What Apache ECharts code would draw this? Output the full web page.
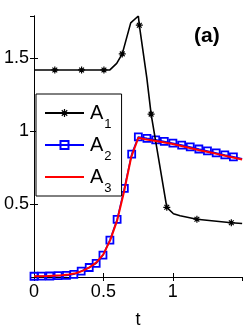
<!DOCTYPE html>
<html><head><meta charset="utf-8">
<script src="https://cdn.jsdelivr.net/npm/echarts@6/dist/echarts.min.js"></script>
<style>html,body{margin:0;padding:0;background:#fff}#c{width:250px;height:334px}</style>
</head><body><div id="c"></div>
<script>
// A1: curve points without markers, and marked points
var a1CurveX = [0, 0.547, 0.596, 0.697, 0.752, 0.813, 1.005, 1.053, 1.5];
var a1CurveY = [1.42, 1.42, 1.465, 1.743, 1.79, 1.365, 0.434, 0.42, 0.367];
var a1MarkX = [0.15, 0.343, 0.504, 0.636, 0.759, 0.844, 0.957, 1.174, 1.422];
var a1MarkY = [1.42, 1.42, 1.42, 1.53, 1.727, 1.117, 0.478, 0.396, 0.372];
// A2: squares
var a2X = [0, 0.054, 0.114, 0.174, 0.234, 0.287, 0.340, 0.398, 0.448, 0.497, 0.547, 0.599, 0.651, 0.704, 0.752,
           0.814, 0.877, 0.939, 1.001, 1.064, 1.126, 1.188, 1.25, 1.313, 1.375, 1.437, 1.5];
var a2Y = [0.005, 0.006, 0.007, 0.009, 0.011, 0.018, 0.04, 0.065, 0.093, 0.15, 0.253, 0.395, 0.608, 0.843, 0.961,
           0.951, 0.941, 0.93, 0.918, 0.905, 0.892, 0.878, 0.865, 0.851, 0.837, 0.824, 0.811];
// A3: red line
var a3X = [0, 0.1, 0.2, 0.25, 0.3, 0.35, 0.4, 0.45, 0.5, 0.55, 0.6, 0.65, 0.7, 0.752, 0.8, 0.9, 1.0, 1.1, 1.2, 1.3, 1.4, 1.5];
var a3Y = [0.005, 0.007, 0.012, 0.017, 0.026, 0.042, 0.066, 0.1, 0.155, 0.255, 0.39, 0.59, 0.82, 0.955, 0.945, 0.93, 0.912, 0.89, 0.868, 0.848, 0.827, 0.806];
var seriesNames = ['A1', 'A2', 'A3'];
var xTicks = [0, 0.5, 1];
var yTicks = [0.5, 1, 1.5];
var panelLabel = '(a)';
var xName = 't';

var FONT = '"Liberation Sans", Arial, sans-serif';
var a1Data = [];
a1CurveX.forEach(function (x, i) { a1Data.push({ value: [x, a1CurveY[i]], symbol: 'none' }); });
a1MarkX.forEach(function (x, i) { a1Data.push({ value: [x, a1MarkY[i]] }); });
a1Data.sort(function (p, q) { return p.value[0] - q.value[0]; });
var a2Data = a2X.map(function (x, i) { return [x, a2Y[i]]; });
var a3Data = a3X.map(function (x, i) { return [x, a3Y[i]]; });

var star = 'path://M5,0L5,10M0,5L10,5M1.6,1.6L8.4,8.4M1.6,8.4L8.4,1.6';

var chart = echarts.init(document.getElementById('c'), null, { renderer: 'canvas' });
var axisCommon = {
  min: 0,
  axisLine: { show: true, lineStyle: { color: '#000', width: 1 } },
  axisTick: { show: true, inside: true, length: 4, lineStyle: { color: '#000' } },
  splitLine: { show: false }
};
chart.setOption({
  animation: false,
  grid: { left: 34, right: 8, top: 16, bottom: 48 },
  xAxis: [
    Object.assign({}, axisCommon, { type: 'value', max: 1.499, interval: 0.5, position: 'bottom',
      name: xName, nameLocation: 'middle', nameGap: 34,
      nameTextStyle: { fontFamily: FONT, fontSize: 18, color: '#000' },
      axisLabel: { show: true, margin: 6, fontFamily: FONT, fontSize: 18, color: '#000', showMaxLabel: false,
        formatter: function (v) { return xTicks.indexOf(v) >= 0 ? String(v) : ''; } } }),
    Object.assign({}, axisCommon, { type: 'value', max: 1.499, interval: 0.5, position: 'top', axisLabel: { show: false } })
  ],
  yAxis: [
    Object.assign({}, axisCommon, { type: 'value', max: 1.79, interval: 0.5, position: 'left',
      axisLabel: { show: true, margin: 5, fontFamily: FONT, fontSize: 18, color: '#000', showMinLabel: false, showMaxLabel: false,
        formatter: function (v) { return yTicks.indexOf(v) >= 0 ? String(v) : ''; } } }),
    Object.assign({}, axisCommon, { type: 'value', max: 1.79, interval: 0.5, position: 'right', axisLabel: { show: false } })
  ],
  legend: {
    orient: 'vertical', left: 36, top: 94,
    data: [
      { name: seriesNames[0], itemStyle: { color: '#000', borderColor: '#000', borderWidth: 1.2 } },
      seriesNames[1],
      { name: seriesNames[2], itemStyle: { color: 'rgba(0,0,0,0)', borderWidth: 0 } }
    ],
    backgroundColor: '#fff', borderColor: '#000', borderWidth: 1, borderRadius: 0,
    padding: [9, 10, 1, 8], itemGap: 4, itemWidth: 39, itemHeight: 10,
    formatter: function (n) { return '{a|A}{s|' + n.slice(1) + '}'; },
    textStyle: {
      padding: [0, 0, 0, 1],
      rich: {
        a: { fontFamily: FONT, fontSize: 20, color: '#000', lineHeight: 20, verticalAlign: 'middle' },
        s: { fontFamily: FONT, fontSize: 13, color: '#000', lineHeight: 20, verticalAlign: 'bottom', padding: [0, 0, -8, 1] }
      }
    }
  },
  graphic: [{
    type: 'text', left: 194, top: 26, z: 100,
    style: { text: panelLabel, font: 'bold 21px ' + FONT, fill: '#000' }
  }],
  series: [
    { name: seriesNames[0], type: 'line', data: a1Data, z: 3,
      symbol: star, symbolSize: 7, showAllSymbol: true,
      lineStyle: { color: '#000', width: 1.6 },
      itemStyle: { color: '#000', borderColor: '#000', borderWidth: 1.2 } },
    { name: seriesNames[1], type: 'line', data: a2Data, z: 2,
      symbol: 'rect', symbolSize: 7, showAllSymbol: true,
      lineStyle: { color: '#0000ff', width: 1.5 },
      itemStyle: { color: 'rgba(255,255,255,0)', borderColor: '#0000ff', borderWidth: 1.8 } },
    { name: seriesNames[2], type: 'line', data: a3Data, z: 4, symbol: 'none', smooth: false,
      lineStyle: { color: '#ff0000', width: 2 },
      itemStyle: { color: '#ff0000' } }
  ]
});
</script></body></html>
